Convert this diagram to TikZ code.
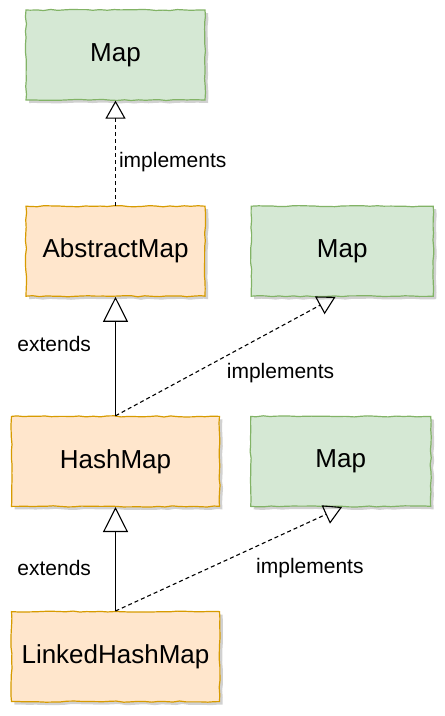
\documentclass[tikz,border=0pt]{standalone}
\usepackage{fontspec}
\setmainfont{Liberation Sans}
\usepackage{tikz}
\usetikzlibrary{positioning,arrows.meta,decorations.pathmorphing,shadows}
\definecolor{IfaceFill}{HTML}{D5E8D4}
\definecolor{IfaceLine}{HTML}{82B366}
\definecolor{ClassFill}{HTML}{FFE6CC}
\definecolor{ClassLine}{HTML}{D79B00}

\begin{document}
\begin{tikzpicture}[every node/.style={font=\fontsize{21}{25}\selectfont}]
\pgfmathsetseed{11}
\tikzstyle{box}=[line width=1.2pt,minimum height=90pt,align=center,font=\fontsize{26}{30}\selectfont,
  decorate,decoration={random steps,segment length=7pt,amplitude=.6pt},
  drop shadow={shadow xshift=3pt,shadow yshift=-3pt,fill=black,opacity=.18}]
\tikzstyle{iface}=[box,draw=IfaceLine,fill=IfaceFill]
\tikzstyle{cls}=[box,draw=ClassLine,fill=ClassFill]
\tikzstyle{real}=[-{Triangle[open,length=18pt,width=20pt]},line width=1.1pt,dash pattern=on 4pt off 3pt]
\tikzstyle{ext}=[-{Triangle[open,length=25pt,width=25pt]},line width=1.1pt]
\useasboundingbox (0,0) rectangle (445pt,-716pt);
\node[iface,minimum width=179pt] (map) at (115.5pt,-55pt) {Map};
\node[cls,minimum width=179pt,below=105pt of map] (abstract) {AbstractMap};
\node[iface,minimum width=182pt,right=45pt of abstract] (mapb) {Map};
\node[cls,minimum width=208pt,below=119pt of abstract] (hash) {HashMap};
\node[iface,minimum width=180pt,right=30pt of hash] (mapc) {Map};
\node[cls,minimum width=208pt,below=104pt of hash] (linked) {LinkedHashMap};
\coordinate[right=85pt of mapb.south west] (mapbin);
\coordinate[right=92pt of mapc.south west] (mapcin);
\draw[real] (abstract) -- node[pos=.41,right,inner sep=3pt] {implements} (map);
\draw[ext] (hash) -- node[pos=.6,left=22pt,inner sep=2pt] {extends} (abstract);
\draw[real] (hash.north) -- node[pos=.75,yshift=-47pt] {implements} (mapbin);
\draw[ext] (linked) -- node[pos=.41,left=22pt,inner sep=2pt] {extends} (hash);
\draw[real] (linked.north) -- node[pos=.88,xshift=-5pt,yshift=-49pt] {implements} (mapcin);
\end{tikzpicture}
\end{document}
